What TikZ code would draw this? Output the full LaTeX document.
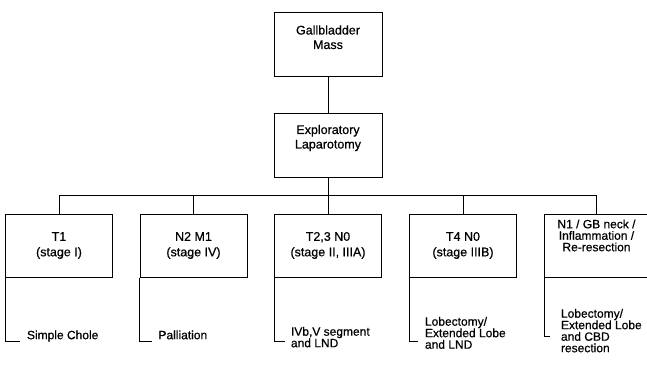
\documentclass[tikz,border=0pt]{standalone}
\usepackage{fontspec}
\setmainfont{Liberation Sans}
\newfontfamily\chartfont{Liberation Sans}[FakeBold=0.6]
\usetikzlibrary{positioning}

\begin{document}
\begin{tikzpicture}[
  x=1pt, y=1pt,
  font=\chartfont\fontsize{12.5}{14.5}\selectfont,
  line width=1pt,
  box/.style={draw, minimum width=107pt, minimum height=63pt, align=center,
    inner sep=2pt},
  topbox/.style={box, minimum width=108pt},
  stagebox/.style={box, font=\chartfont\fontsize{12.5}{15.5}\selectfont},
  result/.style={anchor=north west, inner sep=0pt, align=left,
    font=\chartfont\fontsize{12}{11.5}\selectfont},
]
  \useasboundingbox (0,0) rectangle (647,-366);

  \node[topbox, minimum height=64pt, text depth=15.6pt] (mass) at (328,-45) {Gallbladder\\Mass};
  \node[topbox, text depth=17.6pt, below=36pt of mass] (lap) {Exploratory\\Laparotomy};

  \node[stagebox, below=36pt of lap] (t3) {T2,3 N0\\(stage II, IIIA)};
  \node[stagebox, left=26.5pt of t3]  (t2) {N2 M1\\(stage IV)};
  \node[stagebox, left=26.5pt of t2]  (t1) {T1\\(stage I)};
  \node[stagebox, right=27pt of t3]   (t4) {T4 N0\\(stage IIIB)};
  \node[box, right=27pt of t4, minimum width=104pt,
    font=\chartfont\fontsize{12}{11.5}\selectfont, text depth=20.2pt] (t5)
    {N1 / GB neck /\\Inflammation /\\Re-resection};

  \coordinate (bus) at ([yshift=-18pt]lap.south);
  \draw (mass) -- (lap);
  \draw (lap) -- (t3);
  \foreach \n in {t1,t2,t4,t5}
    \draw (\n.north) |- (bus);

  % outcomes
  \coordinate (e1) at (20,-341);
  \coordinate (e2) at (152,-341);
  \coordinate (e3) at (285,-341);
  \coordinate (e4) at (418,-341);
  \coordinate (e5) at (550,-336);
  \foreach \i in {1,...,5}
    \draw (t\i.south west) |- (e\i);

  \node[result] (r1) at ([xshift=6.5pt, yshift=11pt]e1) {Simple Chole};
  \node[result] (r2) at ([xshift=6pt, yshift=11pt]e2) {Palliation};
  \node[result] (r3) at ([xshift=5.5pt, yshift=14.5pt]e3) {IVb,V segment\\and LND};
  \node[result] (r4) at ([xshift=6.5pt, yshift=24.5pt]e4) {Lobectomy/\\Extended Lobe\\and LND};
  \node[result] (r5) at ([xshift=10.5pt, yshift=27.5pt]e5) {Lobectomy/\\Extended Lobe\\and CBD\\resection};
\end{tikzpicture}
\end{document}
